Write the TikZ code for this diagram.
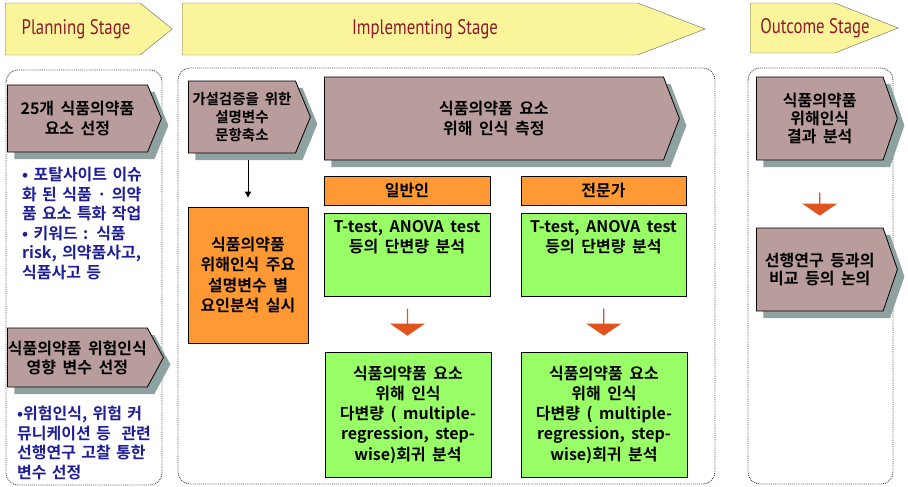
\documentclass[tikz,border=0pt]{standalone}
\usepackage{fontspec}
\setmainfont{Noto Sans CJK KR}[BoldFont={Noto Sans CJK KR Bold}, WordSpace=1.8]
\newfontfamily\stagefont{PT Sans}[FakeStretch=0.8]
\usetikzlibrary{shapes.symbols,shapes.arrows,arrows.meta,positioning,calc,shadows}
\definecolor{stageyellow}{HTML}{FAF59B}
\definecolor{stagered}{HTML}{8E1A2A}
\definecolor{boxrose}{HTML}{B99C9C}
\definecolor{boxshadow}{HTML}{8FA2A2}
\definecolor{boxgreen}{HTML}{99FF66}
\definecolor{boxorange}{HTML}{FF9933}
\definecolor{blockred}{HTML}{E0531E}
\definecolor{notenavy}{HTML}{1E1E96}

\begin{document}
\begin{tikzpicture}[x=1pt,y=-1pt,
  stage/.style={signal, signal to=east, draw=black!60, fill=stageyellow, inner sep=0pt, anchor=west,
    signal pointer angle=#1},
  stagetext/.style={inner sep=0pt, font=\stagefont\fontsize{21}{23}\selectfont, text=stagered},
  task/.style={signal, signal to=east, draw=black, line width=0.8pt, fill=boxrose, inner sep=0pt, anchor=west,
    align=center, signal pointer angle=#1, font=\bfseries\fontsize{16}{20}\selectfont,
    drop shadow={shadow xshift=7pt, shadow yshift=-7pt, fill=boxshadow, opacity=1}},
  cell/.style={rectangle, draw=black, line width=0.8pt, fill=#1, inner sep=0pt, align=center,
    font=\bfseries\fontsize{16}{20.25}\selectfont},
  note/.style={inner sep=0pt, align=left, text width=150pt, text=notenavy,
    font=\bfseries\fontsize{16}{19.5}\selectfont},
  frame/.style={draw=black!70, line width=0.9pt, densely dotted, rounded corners=12pt},
  blockarr/.style={single arrow, shape border rotate=270, fill=blockred, inner sep=0pt,
    minimum width=35pt, single arrow head extend=6.5pt, single arrow tip angle=111},
  arr/.style={-{Triangle[length=6pt,width=6pt]}, line width=1pt}
]
  \useasboundingbox (0,0) rectangle (908,487);

  \draw[frame] (6,70) rectangle (162,485);
  \draw[frame] (178,68) rectangle (715,484);
  \draw[frame] (748,68) rectangle (893,484);

  \node[stage=78, minimum width=167pt, minimum height=52pt] (hplan) at (5,29) {};
  \node[stage=42, minimum width=523pt, minimum height=52pt] (himpl) at (182,29) {};
  \node[stage=43, minimum width=148pt, minimum height=50pt] (hout) at (750,28) {};
  \node[stagetext] (hplantxt) at (76,29) {Planning Stage};
  \node[stagetext] (himpltxt) at (425,29) {Implementing Stage};
  \node[stagetext] (houttxt) at (815,28) {Outcome Stage};

  \node[task=135, minimum width=154pt, minimum height=67pt] (plan1) at (7,118.5) {25개 식품의약품\\요소 선정};
  \node[note, anchor=north west] (plan1note) at (22,167)
    {• 포탈사이트 이슈\\화 된 식품 · 의약\\품 요소 특화 작업\\• 키워드 : 식품\\risk, 의약품사고,\\식품사고 등};
  \node[task=123, minimum width=156pt, minimum height=59pt, font=\bfseries\fontsize{16}{19}\selectfont] (plan2) at (7,357.5) {식품의약품 위험인식\\영향 변수 선정};
  \node[note, anchor=north west] (plan2note) at (17,406)
    {•위험인식, 위험 커\\뮤니케이션 등 \ 관련\\선행연구 고찰 통한\\변수 선정};

  \node[task=135, minimum width=122pt, minimum height=72pt, font=\bfseries\fontsize{14.5}{18}\selectfont] (impl1) at (188,117) {가설검증을 위한\\설명변수\\문항축소};
  \node[task=138, minimum width=355pt, minimum height=83pt] (impl2) at (324,118.5) {식품의약품 요소\\위해 인식 측정};
  \node[cell=boxorange, minimum width=120pt, minimum height=136pt] (factor) at (248,275) {식품의약품\\위해인식 주요\\설명변수 별\\요인분석 실시};

  \node[cell=boxorange, minimum width=166pt, minimum height=29pt] (gen) at (407,190.5) {일반인};
  \node[cell=boxorange, minimum width=165pt, minimum height=29pt] (exp) at (603.5,190.5) {전문가};
  \node[cell=boxgreen, minimum width=166pt, minimum height=83pt] (genuni) at (407,254.5) {};
  \node[cell=boxgreen, minimum width=165pt, minimum height=83pt] (expuni) at (603.5,254.5) {};
  \node[cell=none, draw=none, anchor=north, below=7pt of genuni.north] (genunitxt) {T-test, ANOVA test\\등의 단변량 분석};
  \node[cell=none, draw=none, anchor=north, below=7pt of expuni.north] (expunitxt) {T-test, ANOVA test\\등의 단변량 분석};
  \node[cell=boxgreen, minimum width=166pt, minimum height=125pt] (genmul) at (408,414.5)
    {식품의약품 요소\\위해 인식\\다변량 ( multiple-\\regression, step-\\wise)회귀 분석};
  \node[cell=boxgreen, minimum width=166pt, minimum height=125pt] (expmul) at (604,414.5)
    {식품의약품 요소\\위해 인식\\다변량 ( multiple-\\regression, step-\\wise)회귀 분석};
  \node[blockarr, minimum height=27pt] (genarr) at ($(genuni.south)!0.5!(genmul.north)+(0,-2)$) {};
  \node[blockarr, minimum height=27pt] (exparr) at ($(expuni.south)!0.5!(expmul.north)+(0,-2)$) {};

  \node[task=142, minimum width=141pt, minimum height=83pt, font=\bfseries\fontsize{16}{18}\selectfont] (out1) at (756,118.5) {식품의약품\\위해인식\\결과 분석};
  \node[task=142, minimum width=141pt, minimum height=83pt, font=\bfseries\fontsize{16}{18}\selectfont] (out2) at (756,269.5) {선행연구 등과의\\비교 등의 논의};
  \node[blockarr, minimum height=23pt] (outarr) at ($(out1.south)!0.5!(out2.north)+(0,10)$) {};

  \draw[arr, shorten <=7pt, shorten >=9pt] (impl1.south -| factor.north) -- (factor.north);
\end{tikzpicture}
\end{document}
